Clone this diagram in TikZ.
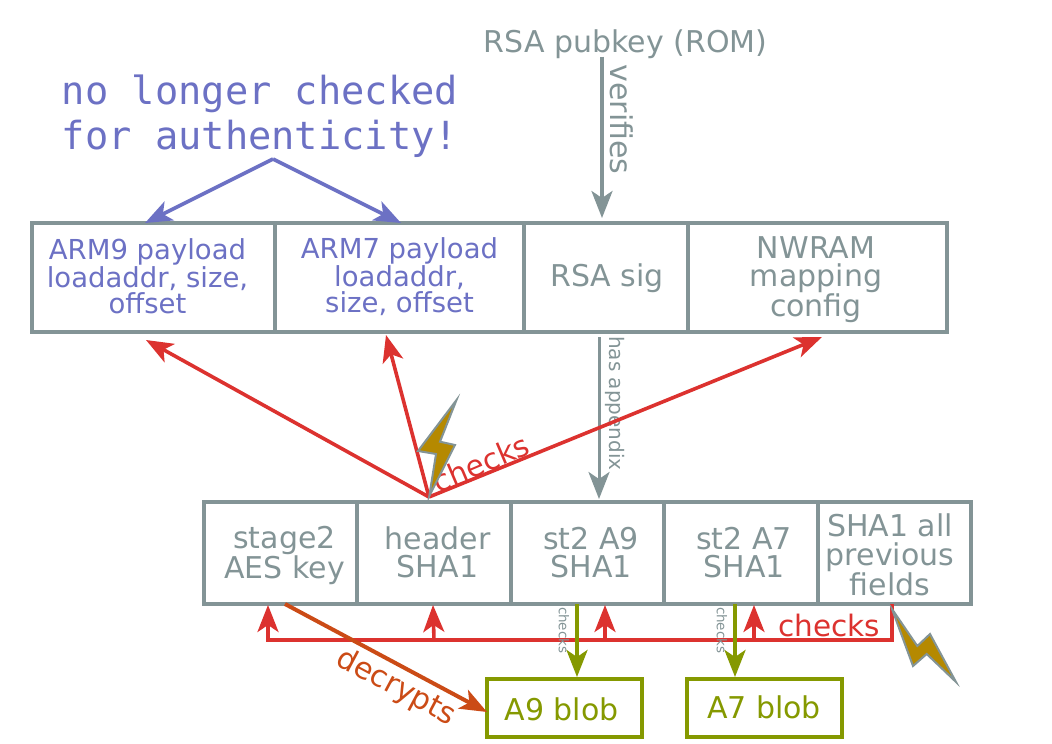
\documentclass[tikz,border=0pt]{standalone}
\usepackage{fontspec}
\setmainfont{DejaVu Sans}
\newfontfamily\pixelfont{DejaVu Sans Mono}
\usetikzlibrary{positioning, arrows.meta}
\definecolor{base}{HTML}{839496}
\definecolor{sblue}{HTML}{6C71C4}
\definecolor{sred}{HTML}{DC322F}
\definecolor{sorange}{HTML}{CB4B16}
\definecolor{sgreen}{HTML}{859900}
\definecolor{syellow}{HTML}{B58900}
\tikzstyle{cell} = [rectangle, draw=base, line width=3.6pt, inner sep=0pt, outer sep=0pt]
\tikzstyle{blob} = [rectangle, draw=sgreen, line width=4pt, inner sep=0pt, outer sep=0pt, minimum width=155pt, minimum height=58pt, text=sgreen, font=\fontsize{30}{30}\selectfont]
\tikzstyle{toptext} = [align=center, inner sep=0pt, text=sblue, font=\fontsize{27.5}{26}\selectfont]
\tikzstyle{basetext} = [align=center, inner sep=0pt, text=base, font=\fontsize{30}{28.6}\selectfont]
\tikzstyle{arrow} = [line width=3.6pt,-{Stealth[length=27pt,width=21pt,inset=7pt]}]
\tikzstyle{bolt} = [draw=base, line width=2pt, fill=syellow, line join=miter]
\begin{document}
\begin{tikzpicture}[x=1pt, y=-1pt]
            \useasboundingbox (0,0) rectangle (1052,744);
            \node (pubkey) [basetext] at (625.5,44) {RSA pubkey (ROM)};
            \node (warning) [align=center, inner sep=0pt, text=sblue, font=\pixelfont\fontsize{38.7}{45}\selectfont] at (260,116) {no longer checked\\for authenticity!};

            \node (arm9) [cell, minimum width=243pt, minimum height=109pt] at (153.5,277.5) {};
            \node (arm7) [cell, minimum width=249pt, minimum height=109pt] at (399.5,277.5) {};
            \node (rsasig) [cell, minimum width=164pt, minimum height=109pt] at (606,277.5) {};
            \node (nwram) [cell, minimum width=259pt, minimum height=109pt] at (817.5,277.5) {};
            \node (arm9text) [toptext] at (147.5,276.5) {ARM9 payload\\loadaddr, size,\\offset};
            \node (arm7text) [toptext] at (399.5,276.5) {ARM7 payload\\loadaddr,\\size, offset};
            \node (rsasigtext) [basetext] at (607,278) {RSA sig};
            \node (nwramtext) [basetext] at (816,279.5) {NWRAM\\mapping\\config};

            \node (stage2) [cell, minimum width=153pt, minimum height=102pt] at (280.5,553) {};
            \node (header) [cell, minimum width=154pt, minimum height=102pt] at (434,553) {};
            \node (st2a9) [cell, minimum width=153pt, minimum height=102pt] at (587.5,553) {};
            \node (st2a7) [cell, minimum width=154pt, minimum height=102pt] at (741,553) {};
            \node (allsha) [cell, minimum width=153pt, minimum height=102pt] at (894.5,553) {};
            \node (stage2text) [basetext] at (284.5,555) {stage2\\AES key};
            \node (headertext) [basetext] at (437.5,552.5) {header\\SHA1};
            \node (st2a9text) [basetext] at (591,552.5) {st2 A9\\SHA1};
            \node (st2a7text) [basetext] at (744,552.5) {st2 A7\\SHA1};
            \node (allshatext) [basetext] at (890,555) {SHA1 all\\previous\\fields};

            \node (a9blob) [blob] at (564.5,708) {};
            \node (a7blob) [blob] at (764.5,708) {};
            \node (a9text) [text=sgreen, inner sep=0pt, font=\fontsize{30}{30}\selectfont] at (561.5,709) {A9 blob};
            \node (a7text) [text=sgreen, inner sep=0pt, font=\fontsize{30}{30}\selectfont] at (764,707) {A7 blob};

            \coordinate (warnfork) at (273,159);
            \coordinate (redfork) at (429,497);
            \coordinate (busleft) at (268,640);
            \coordinate (busright) at (892,640);

            \draw [arrow, draw=sblue] (warnfork) -- ([xshift=-8.5pt]arm9.north);
            \draw [arrow, draw=sblue] (warnfork) -- ([xshift=1.5pt]arm7.north);
            \draw [arrow, draw=base] ([xshift=-23.5pt,yshift=2pt]pubkey.south) -- node[rotate=-90, anchor=south, text=base, inner sep=6pt, pos=0.39, font=\fontsize{30}{30}\selectfont]{verifies} ([xshift=-4pt,yshift=5pt]rsasig.north);
            \draw [arrow, draw=base, line width=3pt] ([xshift=-7pt,yshift=-5pt]rsasig.south) -- node[rotate=-90, anchor=south, text=base, inner sep=5pt, pos=0.41, font=\fontsize{20}{20}\selectfont]{has appendix} ([xshift=-7pt,yshift=3pt]st2a9.north -| rsasig.south);

            \draw [arrow, draw=sred] (redfork) -- ([xshift=-7.5pt,yshift=-8pt]arm9.south);
            \draw [arrow, draw=sred] (redfork) -- ([xshift=-13.5pt,yshift=-3pt]arm7.south);
            \draw [arrow, draw=sred] (redfork) -- ([xshift=4.5pt,yshift=-5pt]nwram.south);
            \node (checkstop) [rotate=23, text=sred, inner sep=0pt, font=\fontsize{29.5}{30}\selectfont] at (481,463) {checks};
            \draw [bolt] (456.5,400) -- (418,451) -- (436,454) -- (429.3,496) -- (455,445) -- (440,441.7) -- cycle;

            \draw [arrow, draw=sred] ([xshift=-2.5pt]allsha.south) -- (busright) -- (busleft) -- ([xshift=-12.5pt,yshift=-1pt]stage2.south);
            \draw [arrow, draw=sred] (header.south |- busleft) -- ([xshift=-1pt,yshift=-1pt]header.south);
            \draw [arrow, draw=sred] ([xshift=17.5pt]st2a9.south |- busleft) -- ([xshift=17.5pt,yshift=-1pt]st2a9.south);
            \draw [arrow, draw=sred] ([xshift=13pt]st2a7.south |- busleft) -- ([xshift=13pt,yshift=-1pt]st2a7.south);
            \node (checksbus) [text=sred, inner sep=0pt, font=\fontsize{29.5}{30}\selectfont] at (829,625) {checks};
            \draw [bolt] (892,609) -- (913,666) -- (926.7,654) -- (956,682) -- (930,634) -- (917.3,646) -- cycle;

            \draw [arrow, draw=sorange, line width=4pt] ([xshift=4.5pt]stage2.south) -- node[sloped, anchor=north, text=sorange, inner sep=5pt, pos=0.6, font=\fontsize{30}{30}\selectfont]{decrypts} ([yshift=-4pt]a9blob.west);

            \draw [arrow, draw=sgreen, line width=4pt] ([xshift=-10.5pt]st2a9.south) -- node[rotate=-90, anchor=north, text=base, inner sep=6pt, pos=0.36, font=\fontsize{13.5}{14}\selectfont]{checks} ([xshift=12.5pt,yshift=2pt]a9blob.north);
            \draw [arrow, draw=sgreen, line width=4pt] ([xshift=-6pt]st2a7.south) -- node[rotate=-90, anchor=north, text=base, inner sep=6pt, pos=0.36, font=\fontsize{13.5}{14}\selectfont]{checks} ([xshift=-29.5pt,yshift=2pt]a7blob.north);
\end{tikzpicture}
\end{document}
